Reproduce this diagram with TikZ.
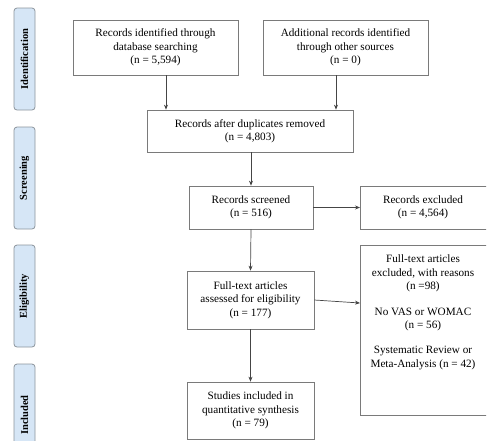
\documentclass[tikz,border=0pt]{standalone}
\usepackage{fontspec}
\setmainfont{Liberation Serif}
\usetikzlibrary{positioning, arrows.meta}

\definecolor{stagefill}{HTML}{D6E6F6}
\definecolor{stageline}{HTML}{8C949C}
\definecolor{boxline}{HTML}{7A7A7A}
\definecolor{arrowline}{HTML}{454545}

\begin{document}
\begin{tikzpicture}[
		x=1pt, y=-1pt,
		>={Stealth[length=5pt, width=4pt]},
		font=\fontsize{11.2}{13.4}\selectfont,
		stage/.style={draw=stageline, fill=stagefill, line width=0.8pt, rounded corners=3pt, rotate=90,
			minimum width=102pt, minimum height=21pt, inner sep=0pt,
			font=\fontsize{10.5}{12}\selectfont\bfseries},
		flowbox/.style={draw=boxline, line width=0.7pt, align=center, inner sep=2pt},
		link/.style={->, draw=arrowline, line width=0.7pt}
		]
		
		\useasboundingbox (0,0) rectangle (497,440);
		\clip (0,0) rectangle (486,440);
		
		% ==========================================
		% Stage labels
		% ==========================================
		\node (ident) [stage] at (24.5,59) {Identification};
		\node (screen) [stage] at (24.5,178) {Screening};
		\node (elig) [stage] at (24.5,296) {Eligibility};
		\node (incl) [stage] at (24.5,415) {Included};
		
		% ==========================================
		% Identification
		% ==========================================
		\node (db) [flowbox, minimum width=165pt, minimum height=55pt] at (155.5,47.5) {
			Records identified through \\ database searching \\ (n = 5,594)};
		\node (other) [flowbox, minimum width=165pt, minimum height=55pt] at (345.5,47.5) {
			Additional records identified \\ through other sources \\ (n = 0)};
		
		% ==========================================
		% Screening
		% ==========================================
		\node (dup) [flowbox, minimum width=206pt, minimum height=42pt] at (250,131) {
			Records after duplicates removed \\ (n = 4,803)};
		\node (screened) [flowbox, minimum width=124pt, minimum height=43pt] at (251,207.5) {
			Records screened \\ (n = 516)};
		\node (excluded) [flowbox, minimum width=140pt, minimum height=43pt, anchor=west] at (360,207.5) {};
		\node (excludedtext) at (423,207.5) [align=center] {Records excluded \\ (n = 4,564)};
		
		\draw[link] ([xshift=10.5pt]db.south) -- ([xshift=10.5pt]db.south |- dup.north);
		\draw[link] ([xshift=-9.5pt]other.south) -- ([xshift=-9.5pt]other.south |- dup.north);
		\draw[link] (screened.north |- dup.south) -- (screened.north);
		\draw[link] (screened.east) -- (excluded.west);
		
		% ==========================================
		% Eligibility and inclusion
		% ==========================================
		\node (fulltext) [flowbox, minimum width=127pt, minimum height=58pt] at (250.5,300) {
			Full-text articles \\ assessed for eligibility \\ (n = 177)};
		\node (reasons) [flowbox, minimum width=140pt, minimum height=170pt, anchor=north west] at (360,245) {};
		\node (reasonstext) [align=center, anchor=north] at (423,251.5) {
			Full-text articles \\ excluded, with reasons \\ (n =98) \\[12pt]
			No VAS or WOMAC \\ (n = 56) \\[12pt]
			Systematic Review or \\ Meta-Analysis (n = 42)};
		\node (studies) [flowbox, minimum width=127pt, minimum height=57pt] at (250.5,410.5) {
			Studies included in \\ quantitative synthesis \\ (n = 79)};
		
		\draw[link] (screened.south) -- (fulltext.north);
		\draw[link] (fulltext.east) -- ([yshift=-3pt]fulltext.east -| reasons.west);
		\draw[link] (fulltext.south) -- (studies.north);
		
\end{tikzpicture}
\end{document}
